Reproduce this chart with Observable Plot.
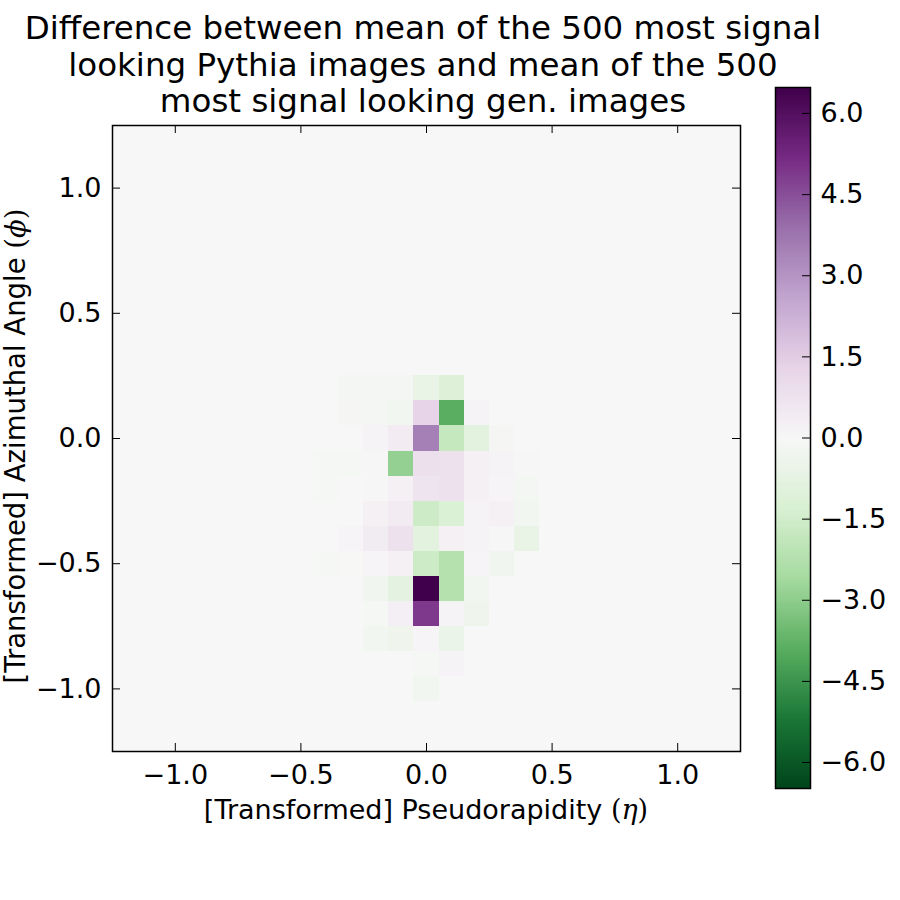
<!DOCTYPE html>
<html><head><meta charset="utf-8">
<script src="https://cdn.jsdelivr.net/npm/d3@7"></script>
<script src="https://cdn.jsdelivr.net/npm/@observablehq/plot@0.6"></script>
<style>
body{margin:0;background:#fff;}
#wrap{position:relative;width:900px;height:900px;font-family:"DejaVu Sans",sans-serif;background:#fff;overflow:hidden;}
#title{position:absolute;left:0;top:10px;width:846px;text-align:center;font-size:32.5px;line-height:36.5px;color:#000;}
#main{position:absolute;left:0;top:0;}
#cbar{position:absolute;left:770px;top:73px;}
</style></head><body>
<div id="wrap"><div id="main"></div><div id="cbar"></div>
<div id="title">Difference between mean of the 500 most signal<br>looking Pythia images and mean of the 500<br>most signal looking gen. images</div></div>
<script>
// ---- data ----
const etaCenters = [-1.2,-1.1,-1.0,-0.9,-0.8,-0.7,-0.6,-0.5,-0.4,-0.3,-0.2,-0.1,0.0,0.1,0.2,0.3,0.4,0.5,0.6,0.7,0.8,0.9,1.0,1.1,1.2];
const phiCenters = [1.2,1.1,1.0,0.9,0.8,0.7,0.6,0.5,0.4,0.3,0.2,0.1,0.0,-0.1,-0.2,-0.3,-0.4,-0.5,-0.6,-0.7,-0.8,-0.9,-1.0,-1.1,-1.2];
// non-zero cells (all others are 0)
const cellEta = [
  -0.3,-0.2,-0.1,0.0,0.1,
  -0.3,-0.2,-0.1,0.0,0.1,0.2,
  -0.2,-0.1,0.0,0.1,0.2,0.3,
  -0.4,-0.3,-0.2,-0.1,0.0,0.1,0.2,0.3,0.4,
  -0.4,-0.3,-0.2,-0.1,0.0,0.1,0.2,0.3,0.4,
  -0.2,-0.1,0.0,0.1,0.2,0.3,0.4,
  -0.3,-0.2,-0.1,0.0,0.1,0.2,0.3,0.4,
  -0.4,-0.3,-0.2,-0.1,0.0,0.1,0.2,0.3,
  -0.2,-0.1,0.0,0.1,0.2,
  -0.2,-0.1,0.0,0.1,0.2,
  -0.2,-0.1,0.0,0.1,
  0.0,0.1,
  0.0
];
const cellPhi = [
  0.2,0.2,0.2,0.2,0.2,
  0.1,0.1,0.1,0.1,0.1,0.1,
  0.0,0.0,0.0,0.0,0.0,0.0,
  -0.1,-0.1,-0.1,-0.1,-0.1,-0.1,-0.1,-0.1,-0.1,
  -0.2,-0.2,-0.2,-0.2,-0.2,-0.2,-0.2,-0.2,-0.2,
  -0.3,-0.3,-0.3,-0.3,-0.3,-0.3,-0.3,
  -0.4,-0.4,-0.4,-0.4,-0.4,-0.4,-0.4,-0.4,
  -0.5,-0.5,-0.5,-0.5,-0.5,-0.5,-0.5,-0.5,
  -0.6,-0.6,-0.6,-0.6,-0.6,
  -0.7,-0.7,-0.7,-0.7,-0.7,
  -0.8,-0.8,-0.8,-0.8,
  -0.9,-0.9,
  -1.0
];
const cellValue = [
  -0.12,-0.12,-0.15,-0.6,-1.1,
  -0.1,-0.15,-0.2,1.3,-3.9,0.15,
  0.15,0.4,3.5,-1.8,-0.9,-0.1,
  -0.08,-0.08,0.02,-2.9,0.85,0.8,0.25,0.15,0.05,
  -0.08,-0.05,0.03,0.25,0.7,0.8,0.25,0.1,-0.12,
  0.25,0.4,-1.6,-1.2,0.15,0.25,-0.2,
  0.12,0.45,0.8,-0.9,0.25,0.15,0.05,-0.6,
  -0.08,-0.02,0.12,0.25,-1.6,-2.2,0.1,-0.3,
  -0.3,-0.8,6.48,-2.2,-0.2,
  -0.08,0.3,4.9,0.15,-0.35,
  -0.25,-0.35,0.1,-0.5,
  -0.08,0.15,
  -0.25
];
const xTicks = [-1.0,-0.5,0.0,0.5,1.0];
const yTicks = [-1.0,-0.5,0.0,0.5,1.0];
const cbTicks = [-6.0,-4.5,-3.0,-1.5,0.0,1.5,3.0,4.5,6.0];
const colorLimit = 6.48;

// ---- styling ----
const prgnReversed = ["#00441b","#1b7837","#5aae61","#a6dba0","#d9f0d3","#f7f7f7","#e7d4e8","#c2a5cf","#9970ab","#762a83","#40004b"];
const colorScale = {type:"linear", domain:[-colorLimit, colorLimit], interpolate: d3.piecewise(d3.interpolateRgb, prgnReversed)};
const fmt = d => d.toFixed(1).replace("-", "\u2212");
const binWidth = 0.1;

const cells = [];
for (const phi of phiCenters) for (const eta of etaCenters) {
  const k = cellEta.findIndex((e, i) => Math.abs(e - eta) < 1e-6 && Math.abs(cellPhi[i] - phi) < 1e-6);
  cells.push({eta, phi, value: k >= 0 ? cellValue[k] : 0});
}

const W = 900, H = 900, mL = 112, mR = 160, mT = 125, mB = 149;
const pw = W - mL - mR, ph = H - mT - mB, tick = 8;

const main = Plot.plot({
  width: W, height: H, marginLeft: mL, marginRight: mR, marginTop: mT, marginBottom: mB,
  x: {domain: [-1.25, 1.25]},
  y: {domain: [-1.25, 1.25]},
  color: colorScale,
  style: {fontFamily: "DejaVu Sans", fontSize: "27px", color: "black", background: "transparent", overflow: "visible"},
  marks: [
    Plot.rect(cells, {x1: d => d.eta - binWidth/2, x2: d => d.eta + binWidth/2, y1: d => d.phi - binWidth/2, y2: d => d.phi + binWidth/2, fill: "value", shapeRendering: "crispEdges"}),
    Plot.ruleX(xTicks, {insetTop: ph - tick, stroke: "black"}),
    Plot.ruleX(xTicks, {insetBottom: ph - tick, stroke: "black"}),
    Plot.ruleY(yTicks, {insetRight: pw - tick, stroke: "black"}),
    Plot.ruleY(yTicks, {insetLeft: pw - tick, stroke: "black"}),
    Plot.frame({stroke: "black", strokeWidth: 1.5}),
    Plot.axisX(xTicks, {anchor: "bottom", tickSize: 0, tickPadding: 13, tickFormat: fmt, label: null}),
    Plot.axisY(yTicks, {anchor: "left", tickSize: 0, tickPadding: 11, tickFormat: fmt, label: null})
  ]
});
document.getElementById("main").appendChild(main);

const svg = d3.select(main);
const xl = svg.append("text").attr("x", mL + pw/2).attr("y", 819).attr("text-anchor", "middle")
  .attr("font-family", "DejaVu Sans").attr("font-size", 27).attr("fill", "black");
xl.append("tspan").text("[Transformed] Pseudorapidity ");
xl.append("tspan").attr("font-family", "DejaVu Serif").text("(");
xl.append("tspan").attr("font-family", "DejaVu Serif").attr("font-style", "italic").text("\u03B7");
xl.append("tspan").attr("font-family", "DejaVu Serif").text(")");

const yl = svg.append("text").attr("transform", `translate(25,${mT + ph/2 + 8}) rotate(-90)`).attr("text-anchor", "middle")
  .attr("font-family", "DejaVu Sans").attr("font-size", 27.5).attr("fill", "black");
yl.append("tspan").text("[Transformed] Azimuthal Angle ");
yl.append("tspan").attr("font-family", "DejaVu Serif").text("(");
yl.append("tspan").attr("font-family", "DejaVu Serif").attr("font-style", "italic").text("\u03D5");
yl.append("tspan").attr("font-family", "DejaVu Serif").text(")");

// ---- colorbar ----
const cbW = 35;
const cbar = Plot.plot({
  width: 130, height: 730, marginLeft: 5, marginRight: 90, marginTop: 14, marginBottom: 15,
  x: {domain: [0, 1], axis: null},
  y: {domain: [-colorLimit, colorLimit], axis: null},
  color: colorScale,
  style: {fontFamily: "DejaVu Sans", fontSize: "27px", color: "black", background: "transparent", overflow: "visible"},
  marks: [
    Plot.raster({x1: 0, x2: 1, y1: -colorLimit, y2: colorLimit, width: 1, height: 512, fill: (x, y) => y}),
    Plot.ruleY(cbTicks, {insetLeft: cbW - tick, stroke: "black"}),
    Plot.frame({stroke: "black", strokeWidth: 1.5}),
    Plot.axisY(cbTicks, {anchor: "right", tickSize: 0, tickPadding: 10, tickFormat: fmt, label: null})
  ]
});
document.getElementById("cbar").appendChild(cbar);
</script>
</body></html>
